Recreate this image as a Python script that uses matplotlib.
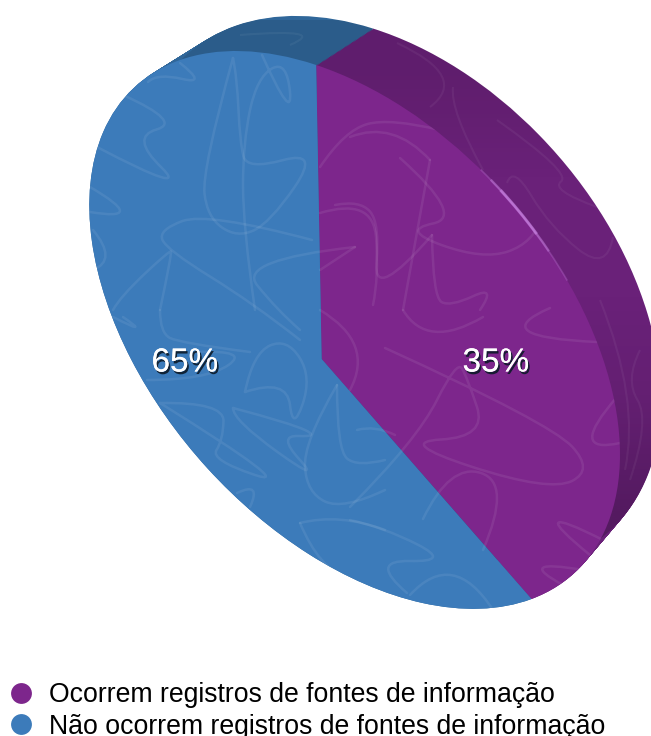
import numpy as np
import matplotlib
matplotlib.use("Agg")
import matplotlib.pyplot as plt
import matplotlib.patheffects as pe
from matplotlib.lines import Line2D
from matplotlib.path import Path
from matplotlib.patches import PathPatch
from matplotlib.transforms import Transform

plt.rcParams['font.family'] = ['Liberation Sans', 'DejaVu Sans']

# pie data
labels = ['Ocorrem registros de fontes de informação', 'Não ocorrem registros de fontes de informação']
values = [35, 65]
top_colors = ['#7d268c', '#3c7bba']
side_colors = ['#6a2179', '#30679a']
label_pos = [(496, 363), (185, 363)]

# where four rim points of the disc land on the page, front and rear face
# order: 12 o'clock, slice boundary, opposite of boundary, 6 o'clock
front_rim = [(316.2, 65.0), (531.5, 599.0), (110.5, 117.5), (325.5, 564.2)]
rear_rim = [(372.8, 28.5), (561.2, 559.8), (163.8, 81.0), (349.0, 523.8)]

# background scribbles, control points in page pixels
scribbles_top = [
    [(180, 63), (208, 85), (157, 73), (148, 82)],
    [(123, 95), (183, 122), (130, 137), (192, 197), (97, 147)],
    [(233, 58), (202, 170), (207, 217), (237, 238), (270, 223), (320, 150), (247, 170), (240, 143), (237, 77), (233, 58)],
    [(262, 55), (293, 124), (287, 60), (257, 77), (243, 143), (243, 227), (255, 310)],
    [(90, 187), (150, 222), (90, 212)],
    [(93, 230), (118, 260), (93, 270)],
    [(312, 240), (207, 212), (158, 230), (167, 250), (253, 303), (300, 340)],
    [(113, 310), (120, 297), (170, 250), (172, 253), (160, 310)],
    [(355, 247), (237, 260), (277, 310), (300, 330)],
    [(355, 247), (320, 270)],
    [(320, 167), (345, 130), (390, 118), (440, 130)],
    [(320, 213), (373, 197), (379, 277), (373, 305)],
    [(400, 158), (466, 217), (400, 230), (483, 260), (533, 243), (542, 218)],
    [(430, 160), (393, 120), (350, 137)],
    [(430, 160), (403, 310)],
    [(432, 235), (373, 303), (380, 223), (360, 200), (335, 205)],
    [(432, 235), (433, 297), (450, 307), (497, 285), (480, 310)],
    [(385, 348), (550, 423), (594, 470), (550, 492), (395, 442), (487, 437), (467, 377), (457, 360), (417, 440), (350, 507)],
    [(357, 430), (375, 425), (395, 435)],
    [(620, 443), (566, 455), (617, 397)],
    [(403, 310), (427, 350), (483, 317)],
    [(550, 308), (483, 337), (597, 342)],
    [(423, 519), (450, 463), (512, 483), (483, 550)],
    [(603, 540), (520, 498), (590, 555)],
    [(583, 570), (513, 558), (563, 585)],
    [(350, 520), (383, 527), (452, 562), (368, 560), (407, 593)],
    [(410, 595), (453, 548), (493, 610)],
    [(197, 352), (250, 350), (207, 380), (147, 380)],
    [(160, 403), (224, 402), (223, 440), (210, 460), (300, 490), (160, 403)],
    [(233, 408), (290, 423), (320, 437), (277, 435), (322, 484), (233, 420), (233, 408)],
    [(245, 392), (253, 353), (287, 338), (312, 377), (293, 432), (287, 378), (245, 392)],
    [(337, 385), (303, 443), (307, 493), (343, 510), (385, 490)],
    [(337, 385), (337, 450), (357, 467), (385, 460)],
    [(300, 523), (340, 513), (385, 530)],
    [(300, 523), (320, 570), (347, 577)],
    [(237, 493), (262, 481), (250, 507)],
    [(320, 310), (375, 343), (350, 390)],
    [(113, 317), (152, 337), (123, 317)],
    [(160, 310), (160, 333), (180, 343), (250, 352)],
]
scribbles_side = [
    [(397, 43), (470, 77), (430, 107)],
    [(453, 87), (450, 110), (483, 170)],
    [(497, 120), (572, 173), (550, 190), (597, 207)],
    [(507, 183), (513, 165), (550, 227), (607, 272), (613, 237)],
    [(240, 35), (330, 28), (290, 45)],
    [(600, 300), (640, 400), (625, 470)],
    [(640, 350), (625, 380), (650, 420), (630, 480)],
]


# plane to plane projection used to lay the pie on its tilted disc
class Projective(Transform):
    input_dims = 2
    output_dims = 2
    is_separable = False

    def __init__(self, h):
        super().__init__()
        self.h = h

    def transform_non_affine(self, values):
        xy = np.asarray(values, dtype=float)
        pts = np.column_stack([xy, np.ones(len(xy))]) @ self.h.T
        return pts[:, :2] / pts[:, 2:]


# solves the 3x3 matrix from the four rim points
def rim_projection(rim):
    a = np.radians(126)
    src = [(0, 1), (np.sin(a), np.cos(a)), (-np.sin(a), -np.cos(a)), (0, -1)]
    m = []
    b = []
    for (x, y), (u, v) in zip(src, rim):
        m.append([x, y, 1, 0, 0, 0, -u * x, -u * y])
        m.append([0, 0, 0, x, y, 1, -v * x, -v * y])
        b += [u, v]
    h = np.linalg.solve(np.array(m), np.array(b, dtype=float))
    return Projective(np.append(h, 1).reshape(3, 3))


# quadratic spline through the midpoints of the control points
def scribble_path(pts):
    pts = np.array(pts, dtype=float)
    verts = [pts[0]]
    codes = [Path.MOVETO]
    for i in range(1, len(pts) - 1):
        end = pts[i + 1] if i == len(pts) - 2 else (pts[i] + pts[i + 1]) / 2
        verts += [pts[i], end]
        codes += [Path.CURVE3, Path.CURVE3]
    if len(pts) == 2:
        verts.append(pts[1])
        codes.append(Path.LINETO)
    return Path(verts, codes)


fig = plt.figure(figsize=(6.51, 7.36), dpi=100)
ax = fig.add_axes([0, 0, 1, 1])

# side of the disc: pie repeated from the rear face to the front face
steps = 50
for k in range(steps):
    t = k / (steps - 1)
    rim = (1 - t) * np.array(rear_rim, dtype=float) + t * np.array(front_rim, dtype=float)
    proj = rim_projection(rim)
    wedges, _ = ax.pie(values, colors=side_colors, startangle=90, counterclock=False)
    for w in wedges:
        w.set_transform(proj + ax.transData)
        w.set_zorder(1)
        w.set_linewidth(0)

rear = rim_projection(np.array(rear_rim, dtype=float))
front = rim_projection(np.array(front_rim, dtype=float))

# side gets darker towards both ends of the purple band
shade = np.zeros((5, 1, 4))
shade[:, 0, 3] = [0.1, 0.0, 0.0, 0.06, 0.2]
im = ax.imshow(shade, extent=(0, 651, 560, 20), aspect='auto', interpolation='bilinear', zorder=2)
im.set_clip_path(Path.unit_circle(), rear + ax.transData)

for pts in scribbles_side:
    line = PathPatch(scribble_path(pts), fill=False, edgecolor='white', alpha=0.05, lw=1.5, zorder=2.5)
    ax.add_patch(line)
    line.set_clip_path(Path.unit_circle(), rear + ax.transData)

# top face
wedges, _ = ax.pie(values, colors=top_colors, startangle=90, counterclock=False)
for w in wedges:
    w.set_transform(front + ax.transData)
    w.set_zorder(3)
    w.set_linewidth(0)
ax.set_aspect('auto')
ax.set_xlim(0, 651)
ax.set_ylim(736, 0)
ax.axis('off')

for pts in scribbles_top:
    line = PathPatch(scribble_path(pts), fill=False, edgecolor='white', alpha=0.075, lw=1.8,
                     capstyle='round', joinstyle='round', zorder=4)
    ax.add_patch(line)
    line.set_clip_path(Path.unit_circle(), front + ax.transData)

# light catching the rim of the purple slice
for a1, a2, w, al in [(40, 60, 1.2, 0.25), (45, 58, 1.8, 0.35), (48, 56, 2.2, 0.45)]:
    ax.add_patch(PathPatch(Path.arc(a1, a2), fill=False, edgecolor='#d58ff0', lw=w, alpha=al, zorder=5,
                           transform=front + ax.transData))

# percent labels
for v, (x, y) in zip(values, label_pos):
    ax.text(x, y, f'{v}%', color='white', fontsize=24, ha='center', va='center', zorder=6,
            path_effects=[pe.withSimplePatchShadow(offset=(1.2, -1.8), shadow_rgbFace='#0c1a28', alpha=0.9),
                          pe.Normal()])

handles = [Line2D([], [], ls='', marker='o', ms=15, mew=0, color=c) for c in top_colors]
ax.legend(handles, labels, loc='upper left', bbox_to_anchor=(0.0, 0.0735), frameon=False, fontsize=19.2,
          borderpad=0, borderaxespad=0, labelspacing=0.22, handletextpad=0.28, handlelength=1.55)

fig.savefig('out.png', dpi=100)
